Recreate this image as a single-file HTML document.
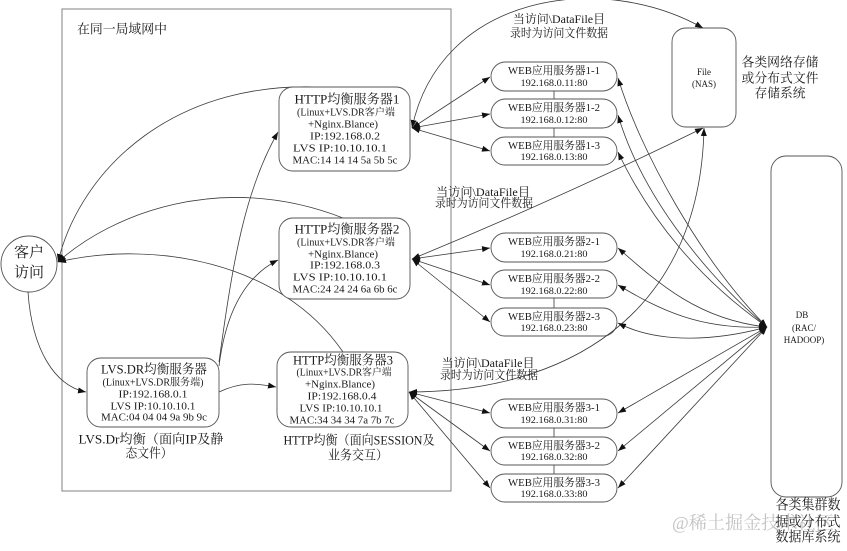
<!DOCTYPE html>
<html><head><meta charset="utf-8"><style>
html,body{margin:0;padding:0;background:#fff;}
svg{display:block;}
text{font-family:"Liberation Serif","Noto Serif CJK SC","Noto Sans CJK SC",serif;fill:#1a1a1a;dominant-baseline:central;}
.ln{fill:none;stroke:#3a3a3a;stroke-width:0.8;}
.bx{fill:#fff;stroke:#555;stroke-width:0.9;}
</style></head><body>
<svg width="847" height="551" viewBox="0 0 847 551" xmlns="http://www.w3.org/2000/svg">
<defs>
<marker id="a" markerUnits="userSpaceOnUse" markerWidth="9" markerHeight="7" refX="8" refY="3.5" orient="auto-start-reverse"><path d="M0,0.5 L8,3.5 L0,6.5 z" fill="#111"/></marker>
</defs>

<!-- outer LAN box -->
<rect x="62" y="9" width="389" height="482" fill="none" stroke="#808080" stroke-width="1"/>
<text x="77" y="29" font-size="13" textLength="90" lengthAdjust="spacingAndGlyphs">在同一局域网中</text>

<!-- client circle -->
<circle cx="29" cy="264" r="28" fill="#fff" stroke="#555" stroke-width="0.9"/>
<text x="29" y="253" font-size="15" text-anchor="middle">客户</text>
<text x="29" y="273" font-size="15" text-anchor="middle">访问</text>

<!-- client connectors -->
<path class="ln" d="M335,88 C175,75 80,170 58,262" marker-end="url(#a)"/>
<path class="ln" d="M343,218 C220,170 110,215 58,262" marker-end="url(#a)"/>
<path class="ln" d="M343,352 C280,260 150,240 58,262" marker-end="url(#a)"/>
<path class="ln" d="M28,292 C32,350 55,386 86,392" marker-end="url(#a)"/>

<!-- LVS to HTTP -->
<path class="ln" d="M219,362 C233,260 245,190 278,132" marker-end="url(#a)"/>
<path class="ln" d="M219,366 C225,318 242,278 278,260" marker-end="url(#a)"/>
<path class="ln" d="M219,392 C240,382 255,383 276,387" marker-end="url(#a)"/>

<!-- HTTP1 box -->
<rect class="bx" x="279" y="87" width="131" height="84" rx="14"/>
<text x="347" y="99" font-size="13" text-anchor="middle" textLength="105" lengthAdjust="spacingAndGlyphs">HTTP均衡服务器1</text>
<text x="346" y="113" font-size="10" text-anchor="middle" textLength="98" lengthAdjust="spacingAndGlyphs">(Linux+LVS.DR客户端</text>
<text x="343" y="125" font-size="10" text-anchor="middle" textLength="70" lengthAdjust="spacingAndGlyphs">+Nginx.Blance)</text>
<text x="345" y="137" font-size="10" text-anchor="middle" textLength="70" lengthAdjust="spacingAndGlyphs">IP:192.168.0.2</text>
<text x="340" y="149" font-size="10" text-anchor="middle" textLength="94" lengthAdjust="spacingAndGlyphs">LVS IP:10.10.10.1</text>
<text x="345" y="161" font-size="10" text-anchor="middle" textLength="105" lengthAdjust="spacingAndGlyphs">MAC:14 14 14 5a 5b 5c</text>

<!-- HTTP2 box -->
<rect class="bx" x="279" y="218" width="131" height="81" rx="14"/>
<text x="347" y="229" font-size="13" text-anchor="middle" textLength="105" lengthAdjust="spacingAndGlyphs">HTTP均衡服务器2</text>
<text x="346" y="243" font-size="10" text-anchor="middle" textLength="98" lengthAdjust="spacingAndGlyphs">(Linux+LVS.DR客户端</text>
<text x="343" y="255" font-size="10" text-anchor="middle" textLength="70" lengthAdjust="spacingAndGlyphs">+Nginx.Blance)</text>
<text x="345" y="266" font-size="10" text-anchor="middle" textLength="70" lengthAdjust="spacingAndGlyphs">IP:192.168.0.3</text>
<text x="340" y="278" font-size="10" text-anchor="middle" textLength="94" lengthAdjust="spacingAndGlyphs">LVS IP:10.10.10.1</text>
<text x="345" y="290" font-size="10" text-anchor="middle" textLength="105" lengthAdjust="spacingAndGlyphs">MAC:24 24 24 6a 6b 6c</text>

<!-- HTTP3 box -->
<rect class="bx" x="277" y="352" width="131" height="75" rx="14"/>
<text x="343" y="360" font-size="13" text-anchor="middle" textLength="100" lengthAdjust="spacingAndGlyphs">HTTP均衡服务器3</text>
<text x="344" y="373" font-size="10" text-anchor="middle" textLength="95" lengthAdjust="spacingAndGlyphs">(Linux+LVS.DR客户端</text>
<text x="340" y="385" font-size="10" text-anchor="middle" textLength="70" lengthAdjust="spacingAndGlyphs">+Nginx.Blance)</text>
<text x="342" y="397" font-size="10" text-anchor="middle" textLength="69" lengthAdjust="spacingAndGlyphs">IP:192.168.0.4</text>
<text x="341" y="409" font-size="10" text-anchor="middle" textLength="83" lengthAdjust="spacingAndGlyphs">LVS IP:10.10.10.1</text>
<text x="342" y="421" font-size="10" text-anchor="middle" textLength="105" lengthAdjust="spacingAndGlyphs">MAC:34 34 34 7a 7b 7c</text>
<text x="359" y="440" font-size="13" text-anchor="middle" textLength="151" lengthAdjust="spacingAndGlyphs">HTTP均衡（面向SESSION及</text>
<text x="358" y="455" font-size="13" text-anchor="middle" textLength="60" lengthAdjust="spacingAndGlyphs">业务交互）</text>

<!-- LVS box -->
<rect class="bx" x="87" y="358" width="132" height="69" rx="14"/>
<text x="154" y="369" font-size="13" text-anchor="middle" textLength="106" lengthAdjust="spacingAndGlyphs">LVS.DR均衡服务器</text>
<text x="153" y="383" font-size="10" text-anchor="middle" textLength="101" lengthAdjust="spacingAndGlyphs">(Linux+LVS.DR服务端)</text>
<text x="153" y="395" font-size="10" text-anchor="middle" textLength="69" lengthAdjust="spacingAndGlyphs">IP:192.168.0.1</text>
<text x="153" y="407" font-size="10" text-anchor="middle" textLength="85" lengthAdjust="spacingAndGlyphs">LVS IP:10.10.10.1</text>
<text x="154" y="418" font-size="10" text-anchor="middle" textLength="106" lengthAdjust="spacingAndGlyphs">MAC:04 04 04 9a 9b 9c</text>
<text x="151" y="439" font-size="13" text-anchor="middle" textLength="145" lengthAdjust="spacingAndGlyphs">LVS.Dr均衡（面向IP及静</text>
<text x="149" y="453" font-size="13" text-anchor="middle" textLength="47" lengthAdjust="spacingAndGlyphs">态文件）</text>

<!-- NAS box -->
<rect class="bx" x="672" y="28" width="64" height="99" rx="14"/>
<text x="704" y="72" font-size="9" text-anchor="middle">File</text>
<text x="704" y="84" font-size="9" text-anchor="middle">(NAS)</text>
<text x="780" y="62" font-size="13" text-anchor="middle" textLength="77" lengthAdjust="spacingAndGlyphs">各类网络存储</text>
<text x="780" y="78" font-size="13" text-anchor="middle" textLength="77" lengthAdjust="spacingAndGlyphs">或分布式文件</text>
<text x="780" y="93" font-size="13" text-anchor="middle" textLength="51" lengthAdjust="spacingAndGlyphs">存储系统</text>

<!-- DB box -->
<rect class="bx" x="771" y="156" width="71" height="341" rx="15"/>
<text x="802" y="315" font-size="9" text-anchor="middle">DB</text>
<text x="804" y="328" font-size="9" text-anchor="middle">(RAC/</text>
<text x="804" y="340" font-size="9" text-anchor="middle">HADOOP)</text>

<!-- watermark -->
<text x="672" y="523" font-size="18" fill="#c4c4c4" style="fill:#c4c4c4" textLength="162" lengthAdjust="spacingAndGlyphs">@稀土掘金技术社区</text>
<text x="808" y="506" font-size="14" text-anchor="middle" textLength="65" lengthAdjust="spacingAndGlyphs">各类集群数</text>
<text x="808" y="523" font-size="14" text-anchor="middle" textLength="65" lengthAdjust="spacingAndGlyphs">据或分布式</text>
<text x="808" y="538" font-size="14" text-anchor="middle" textLength="65" lengthAdjust="spacingAndGlyphs">数据库系统</text>

<!-- WEB vertical connectors -->
<path class="ln" d="M554,91 V99 M554,128 V137 M554,298 V308 M554,428 V437 M554,465 V474"/>

<!-- WEB boxes -->
<rect class="bx" x="491" y="62" width="126" height="29" rx="14.5"/>
<text x="554" y="71" font-size="11" text-anchor="middle" textLength="92" lengthAdjust="spacingAndGlyphs">WEB应用服务器1-1</text>
<text x="554" y="83" font-size="9" text-anchor="middle" textLength="67" lengthAdjust="spacingAndGlyphs">192.168.0.11:80</text>
<rect class="bx" x="491" y="99" width="126" height="29" rx="14.5"/>
<text x="554" y="108" font-size="11" text-anchor="middle" textLength="92" lengthAdjust="spacingAndGlyphs">WEB应用服务器1-2</text>
<text x="554" y="120" font-size="9" text-anchor="middle" textLength="67" lengthAdjust="spacingAndGlyphs">192.168.0.12:80</text>
<rect class="bx" x="491" y="137" width="126" height="28" rx="14"/>
<text x="554" y="146" font-size="11" text-anchor="middle" textLength="92" lengthAdjust="spacingAndGlyphs">WEB应用服务器1-3</text>
<text x="554" y="157" font-size="9" text-anchor="middle" textLength="67" lengthAdjust="spacingAndGlyphs">192.168.0.13:80</text>

<rect class="bx" x="491" y="233" width="126" height="29" rx="14.5"/>
<text x="554" y="242" font-size="11" text-anchor="middle" textLength="92" lengthAdjust="spacingAndGlyphs">WEB应用服务器2-1</text>
<text x="554" y="254" font-size="9" text-anchor="middle" textLength="67" lengthAdjust="spacingAndGlyphs">192.168.0.21:80</text>
<rect class="bx" x="491" y="270" width="126" height="28" rx="14"/>
<text x="554" y="279" font-size="11" text-anchor="middle" textLength="92" lengthAdjust="spacingAndGlyphs">WEB应用服务器2-2</text>
<text x="554" y="291" font-size="9" text-anchor="middle" textLength="67" lengthAdjust="spacingAndGlyphs">192.168.0.22:80</text>
<rect class="bx" x="491" y="308" width="126" height="28" rx="14"/>
<text x="554" y="317" font-size="11" text-anchor="middle" textLength="92" lengthAdjust="spacingAndGlyphs">WEB应用服务器2-3</text>
<text x="554" y="328" font-size="9" text-anchor="middle" textLength="67" lengthAdjust="spacingAndGlyphs">192.168.0.23:80</text>

<rect class="bx" x="491" y="399" width="126" height="29" rx="14.5"/>
<text x="554" y="408" font-size="11" text-anchor="middle" textLength="92" lengthAdjust="spacingAndGlyphs">WEB应用服务器3-1</text>
<text x="554" y="420" font-size="9" text-anchor="middle" textLength="67" lengthAdjust="spacingAndGlyphs">192.168.0.31:80</text>
<rect class="bx" x="491" y="437" width="126" height="28" rx="14"/>
<text x="554" y="446" font-size="11" text-anchor="middle" textLength="92" lengthAdjust="spacingAndGlyphs">WEB应用服务器3-2</text>
<text x="554" y="457" font-size="9" text-anchor="middle" textLength="67" lengthAdjust="spacingAndGlyphs">192.168.0.32:80</text>
<rect class="bx" x="491" y="474" width="126" height="28" rx="14"/>
<text x="554" y="483" font-size="11" text-anchor="middle" textLength="92" lengthAdjust="spacingAndGlyphs">WEB应用服务器3-3</text>
<text x="554" y="494" font-size="9" text-anchor="middle" textLength="67" lengthAdjust="spacingAndGlyphs">192.168.0.33:80</text>

<!-- HTTP to WEB -->
<path class="ln" d="M412,128 L490,77" marker-start="url(#a)" marker-end="url(#a)"/>
<path class="ln" d="M412,128 L490,114" marker-start="url(#a)" marker-end="url(#a)"/>
<path class="ln" d="M412,128 L490,151" marker-start="url(#a)" marker-end="url(#a)"/>
<path class="ln" d="M412,259 L490,248" marker-start="url(#a)" marker-end="url(#a)"/>
<path class="ln" d="M412,259 L490,285" marker-start="url(#a)" marker-end="url(#a)"/>
<path class="ln" d="M412,259 L490,322" marker-start="url(#a)" marker-end="url(#a)"/>
<path class="ln" d="M409,392 L490,413" marker-start="url(#a)" marker-end="url(#a)"/>
<path class="ln" d="M409,392 L490,451" marker-start="url(#a)" marker-end="url(#a)"/>
<path class="ln" d="M409,392 L490,488" marker-start="url(#a)" marker-end="url(#a)"/>

<!-- HTTP to NAS -->
<path class="ln" d="M412,128 C440,-5 600,-30 703,28" marker-start="url(#a)" marker-end="url(#a)"/>
<path class="ln" d="M412,259 Q560,198 703,128" marker-start="url(#a)" marker-end="url(#a)"/>
<path class="ln" d="M409,392 C560,392 700,320 704,128" marker-start="url(#a)" marker-end="url(#a)"/>

<!-- DB to WEB -->
<path class="ln" d="M767,327 C700,260 640,150 618,78" marker-start="url(#a)" marker-end="url(#a)"/>
<path class="ln" d="M767,327 C700,270 640,190 618,115" marker-start="url(#a)" marker-end="url(#a)"/>
<path class="ln" d="M767,327 C700,280 650,220 618,152" marker-start="url(#a)" marker-end="url(#a)"/>
<path class="ln" d="M767,327 C700,320 660,285 618,248" marker-start="url(#a)" marker-end="url(#a)"/>
<path class="ln" d="M767,327 C700,330 660,310 618,285" marker-start="url(#a)" marker-end="url(#a)"/>
<path class="ln" d="M767,327 C720,340 660,345 618,323" marker-start="url(#a)" marker-end="url(#a)"/>
<path class="ln" d="M767,327 L618,413" marker-start="url(#a)" marker-end="url(#a)"/>
<path class="ln" d="M767,327 L618,451" marker-start="url(#a)" marker-end="url(#a)"/>
<path class="ln" d="M767,327 L618,488" marker-start="url(#a)" marker-end="url(#a)"/>

<!-- DataFile labels -->
<text x="559" y="19" font-size="12" text-anchor="middle" textLength="92" lengthAdjust="spacingAndGlyphs">当访问\DataFile目</text>
<text x="559" y="33" font-size="12" text-anchor="middle" textLength="98" lengthAdjust="spacingAndGlyphs">录时为访问文件数据</text>
<text x="483" y="192" font-size="12" text-anchor="middle" textLength="94" lengthAdjust="spacingAndGlyphs">当访问\DataFile目</text>
<text x="484" y="203" font-size="12" text-anchor="middle" textLength="98" lengthAdjust="spacingAndGlyphs">录时为访问文件数据</text>
<text x="488" y="363" font-size="12" text-anchor="middle" textLength="93" lengthAdjust="spacingAndGlyphs">当访问\DataFile目</text>
<text x="489" y="375" font-size="12" text-anchor="middle" textLength="98" lengthAdjust="spacingAndGlyphs">录时为访问文件数据</text>
</svg>
</body></html>
